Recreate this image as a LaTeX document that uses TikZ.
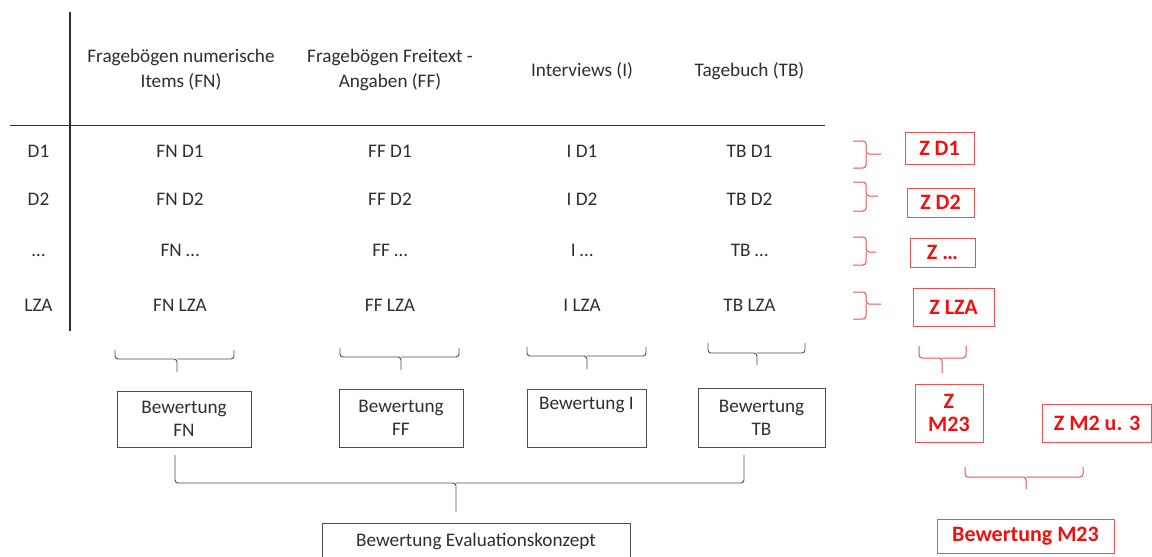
\documentclass[tikz,border=0pt]{standalone}
\usepackage{fontspec}
\setmainfont{Carlito}
\definecolor{ink}{HTML}{2E2E2E}
\definecolor{rline}{HTML}{F25050}
\definecolor{rtext}{HTML}{F01010}

% bracket opening upwards with a tick pointing down:
% #1,#2 = left/right x, #3 = top of legs, #4 = bar y, #5 = tick x, #6 = tick end y
\newcommand\bracketdown[7]{%
  \draw[#7] (#1,#3) |- (#5,#4) -- (#5,#6);
  \draw[#7] (#2,#3) |- (#5,#4);}
% bracket opening to the left with a tick pointing right:
% #1 = leg x, #2 = spine x, #3 = tick end x, #4/#5 = top/bottom y, #6 = tick y
\newcommand\bracketright[7]{%
  \draw[#7] (#1,#4) -| (#2,#6) -- (#3,#6);
  \draw[#7] (#1,#5) -| (#2,#6);}

\begin{document}
\begin{tikzpicture}[x=1pt,y=-1pt,
  txt/.style={font=\fontsize{19.2}{25}\selectfont, inner sep=0pt, align=center, text=ink},
  box/.style={draw=ink!85, line width=0.9pt, inner sep=0pt, align=center,
              font=\fontsize{19.2}{23}\selectfont, text=ink},
  rbox/.style={draw=rline, line width=1pt, inner sep=0pt, align=center,
               font=\bfseries\fontsize{22}{23}\selectfont, text=rtext},
  rule/.style={draw=ink, line width=1.3pt},
  bracket/.style={draw=ink!85, line width=0.9pt, rounded corners=3pt},
  rbracket/.style={draw=rline, line width=1pt, rounded corners=3pt}]
\useasboundingbox (0,0) rectangle (1152,557);

% table frame
\coordinate (vtop) at (70,12);
\coordinate (vbot) at (70,331);
\coordinate (hl) at (10,125.5);
\coordinate (hr) at (825,125.5);
\draw[rule] (vtop) -- (vbot);
\draw[rule] (hl) -- (hr);

% column headers
\node[txt] (hFN) at (181,70) {Fragebögen numerische\\Items (FN)};
\node[txt] (hFF) at (390,70) {Fragebögen Freitext -\\Angaben (FF)};
\node[txt,anchor=base] (hI) at (582,76) {Interviews (I)};
\node[txt,anchor=base] (hTB) at (749.5,76) {Tagebuch (TB)};

% rows
\foreach \r/\lab/\yb in {1/D1/157, 2/D2/205, 3/…/256, 4/LZA/311}{
  \node[txt,anchor=base] (row\r) at (38.5,\yb) {\lab};
  \node[txt,anchor=base] (fn\r) at (180,\yb) {FN \lab};
  \node[txt,anchor=base] (ff\r) at (390,\yb) {FF \lab};
  \node[txt,anchor=base] (iv\r) at (582,\yb) {I \lab};
  \node[txt,anchor=base] (tb\r) at (749.5,\yb) {TB \lab};
}

% per-method assessments
\node[box,minimum width=134,minimum height=56] (bewFN) at (184,419) {Bewertung\\FN};
\node[box,minimum width=124,minimum height=58] (bewFF) at (401,418) {Bewertung\\FF};
\node[box,minimum width=119,minimum height=58] (bewI) at (586.5,418) {Bewertung I\\\strut};
\node[box,minimum width=127,minimum height=59] (bewTB) at (761.5,417.5) {Bewertung\\TB};
\node[box,minimum width=308,minimum height=36] (bewEval) at (476,541) {Bewertung Evaluationskonzept};

\bracketdown{115}{234}{350}{359}{177}{372}{bracket}
\bracketdown{340}{459}{348}{357}{401}{370}{bracket}
\bracketdown{527}{646}{347}{356}{587}{369}{bracket}
\bracketdown{708}{805}{343}{353}{757}{365}{bracket}
\bracketdown{175}{744}{455}{483}{456}{512}{bracket}

% red summary column
\node[rbox,minimum width=69,minimum height=32] (zD1) at (939.5,148) {Z D1};
\node[rbox,minimum width=67,minimum height=29] (zD2) at (940.5,202.5) {Z D2};
\node[rbox,minimum width=65,minimum height=29] (zDots) at (942.5,252.5) {Z …};
\node[rbox,minimum width=81,minimum height=38] (zLZA) at (953.5,307) {Z LZA};
\node[rbox,minimum width=68,minimum height=58] (zM23) at (949,413) {Z\\M23};
\node[rbox,minimum width=109,minimum height=38] (zM2u3) at (1097,423) {Z M2 u. 3};
\node[rbox,minimum width=177,minimum height=34] (bewM23) at (1025.5,536) {Bewertung M23};

\bracketright{853}{866}{881}{141}{168}{154}{rbracket}
\bracketright{853}{866}{878}{182}{211}{196}{rbracket}
\bracketright{853}{866}{876}{237}{265}{252}{rbracket}
\bracketright{853}{866}{881}{292}{319}{304}{rbracket}

\bracketdown{919}{966}{346}{358}{942}{373}{rbracket}
\bracketdown{965}{1083}{467}{477}{1026}{489}{rbracket}
\end{tikzpicture}
\end{document}
